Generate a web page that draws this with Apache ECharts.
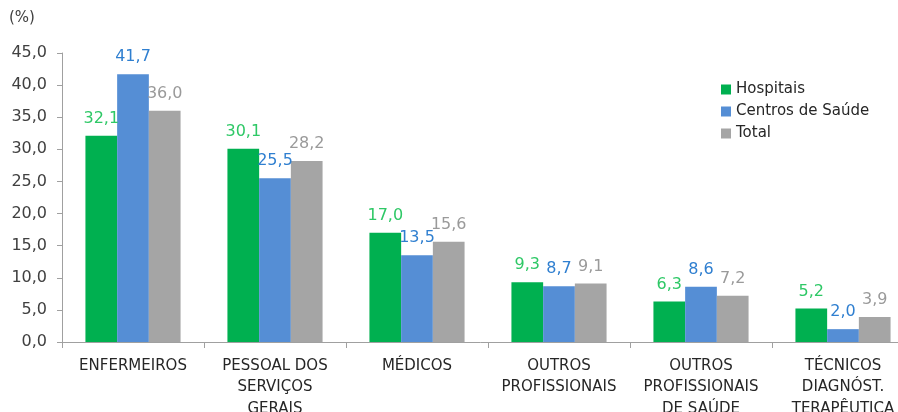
<!DOCTYPE html>
<html><head><meta charset="utf-8">
<script src="https://cdn.jsdelivr.net/npm/echarts@6/dist/echarts.min.js"></script>
<style>html,body{margin:0;padding:0;background:#fff}#c{width:898px;height:412px}</style>
</head><body><div id="c"></div>
<script>
const categories = ['ENFERMEIROS', 'PESSOAL DOS\nSERVIÇOS\nGERAIS', 'MÉDICOS', 'OUTROS\nPROFISSIONAIS', 'OUTROS\nPROFISSIONAIS\nDE SAÚDE', 'TÉCNICOS\nDIAGNÓST.\nTERAPÊUTICA'];
const hospitais = [32.1, 30.1, 17.0, 9.3, 6.3, 5.2];
const centrosSaude = [41.7, 25.5, 13.5, 8.7, 8.6, 2.0];
const total = [36.0, 28.2, 15.6, 9.1, 7.2, 3.9];
const seriesNames = ['Hospitais', 'Centros de Saúde', 'Total'];

const fnt = 'DejaVu Sans, sans-serif';
const fmt = v => v.toFixed(1).replace('.', ',');
function mk(name, data, color, lblColor) {
  return {
    name, type: 'bar', data, barGap: '0%', barCategoryGap: '33%',
    itemStyle: { color },
    label: { show: true, position: 'top', distance: 9, color: lblColor, fontFamily: fnt, fontSize: 16,
      formatter: p => fmt(p.value) }
  };
}
const chart = echarts.init(document.getElementById('c'));
chart.setOption({
  animation: false,
  grid: { left: 62, right: -16, top: 53, bottom: 70, outerBoundsMode: 'none', containLabel: false },
  graphic: [{ type: 'text', left: 9, top: 11, style: { text: '(%)', fontSize: 15, fill: '#404040', fontFamily: fnt } }],
  legend: {
    orient: 'vertical', left: 716, top: 77, itemWidth: 10, itemHeight: 10, itemGap: 7,
    icon: 'rect',
    textStyle: { fontSize: 15, color: '#262626', fontFamily: fnt },
    data: seriesNames
  },
  xAxis: {
    type: 'category', data: categories,
    axisLine: { lineStyle: { color: '#a0a0a0' } },
    axisTick: { show: true, length: 6, lineStyle: { color: '#a0a0a0' } },
    axisLabel: { interval: 0, color: '#262626', fontSize: 15, lineHeight: 21.5, margin: 13, fontFamily: fnt }
  },
  yAxis: {
    type: 'value', min: 0, max: 45, interval: 5,
    axisLine: { show: true, lineStyle: { color: '#a0a0a0' } },
    axisTick: { show: true, length: 5, lineStyle: { color: '#a0a0a0' } },
    splitLine: { show: false },
    axisLabel: { color: '#404040', fontSize: 16, margin: 15, fontFamily: fnt, formatter: v => fmt(v) }
  },
  series: [
    mk(seriesNames[0], hospitais, '#00b050', '#2ec866'),
    mk(seriesNames[1], centrosSaude, '#558ed5', '#2f7fd0'),
    mk(seriesNames[2], total, '#a5a5a5', '#9a9a9a')
  ]
});
</script></body></html>
